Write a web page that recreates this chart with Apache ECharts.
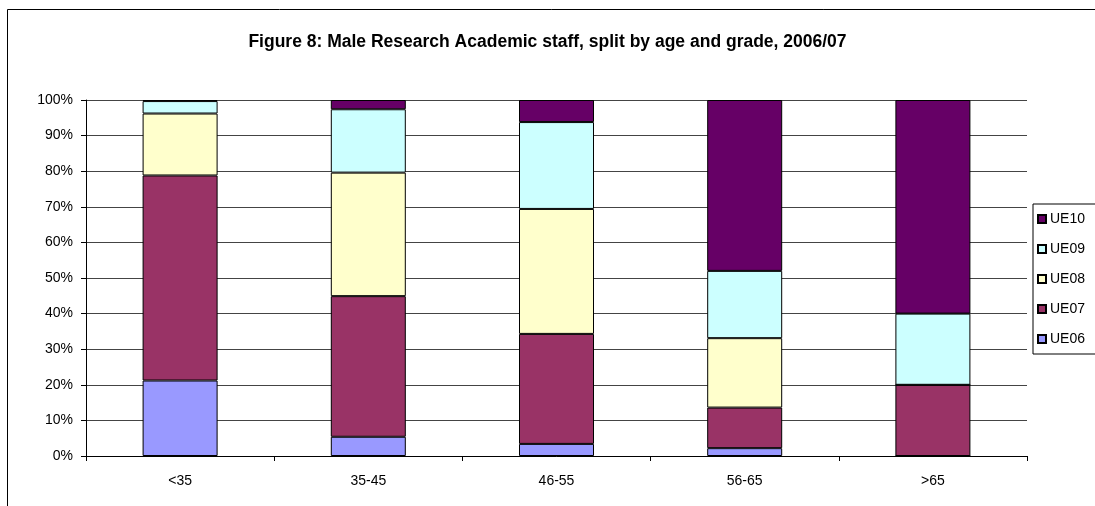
<!DOCTYPE html>
<html>
<head>
<meta charset="utf-8">
<script src="https://cdn.jsdelivr.net/npm/echarts@6/dist/echarts.min.js"></script>
<style>
  html, body { margin: 0; padding: 0; background: #fff; }
  #chart { width: 1095px; height: 506px; }
</style>
</head>
<body>
<div id="chart"></div>
<script>
// age bands
const ageGroups = ['<35', '35-45', '46-55', '56-65', '>65'];

// share of staff by grade (%)
const ue06 = [21.2, 5.4, 3.4, 2.2, 0];
const ue07 = [57.6, 39.5, 30.9, 11.4, 20];
const ue08 = [17.4, 34.7, 35.1, 19.5, 0];
const ue09 = [3.5, 17.8, 24.4, 18.9, 20];
const ue10 = [0.3, 2.6, 6.2, 48.0, 60];

const yTicks = [0, 10, 20, 30, 40, 50, 60, 70, 80, 90, 100];

const font = '"Liberation Sans", Arial, sans-serif';

let myChart = echarts.init(document.getElementById('chart'));

function bar(name, data, color) {
    return {
        name: name,
        type: 'bar',
        stack: 'total',
        barWidth: 75,
        data: data,
        itemStyle: {
            color: color,
            borderColor: '#000',
            borderWidth: 1
        }
    };
}

var option = {
    animation: false,
    backgroundColor: '#fff',
    textStyle: { fontFamily: font, color: '#000' },
    title: {
        text: 'Figure 8: Male Research Academic staff, split by age and grade, 2006/07',
        left: 'center',
        top: 28,
        textStyle: {
            fontFamily: font,
            fontSize: 17.5,
            fontWeight: 'bold',
            color: '#000'
        }
    },
    graphic: [
        {
            type: 'rect',
            shape: { x: 7.5, y: 9.5, width: 1200, height: 600 },
            style: { fill: 'none', stroke: '#000', lineWidth: 1 },
            z: -1
        }
    ],
    legend: {
        data: ['UE10', 'UE09', 'UE08', 'UE07', 'UE06'],
        orient: 'vertical',
        left: 1033,
        top: 204,
        itemWidth: 8,
        itemHeight: 8,
        itemGap: 16,
        padding: [8, 20, 8, 4],
        borderColor: '#000',
        borderWidth: 1,
        icon: 'rect',
        textStyle: { fontFamily: font, fontSize: 14, color: '#000', padding: [0, 0, 0, -1] }
    },
    grid: {
        left: 86,
        right: 68,
        top: 100,
        bottom: 50
    },
    xAxis: {
        type: 'category',
        data: ageGroups,
        axisLine: { lineStyle: { color: '#000' } },
        axisTick: { show: true, length: 5, lineStyle: { color: '#000' } },
        axisLabel: { fontFamily: font, fontSize: 14, color: '#000', margin: 18 }
    },
    yAxis: {
        type: 'value',
        min: yTicks[0],
        max: yTicks[yTicks.length - 1],
        interval: 10,
        axisLine: { show: true, lineStyle: { color: '#000' } },
        axisTick: { show: true, length: 5, lineStyle: { color: '#000' } },
        axisLabel: {
            fontFamily: font,
            fontSize: 14,
            color: '#000',
            margin: 13,
            formatter: '{value}%'
        },
        splitLine: { lineStyle: { color: '#444', width: 1 } }
    },
    series: [
        bar('UE06', ue06, '#9999FF'),
        bar('UE07', ue07, '#993366'),
        bar('UE08', ue08, '#FFFFCC'),
        bar('UE09', ue09, '#CCFFFF'),
        bar('UE10', ue10, '#660066')
    ]
};

myChart.setOption(option);

window.addEventListener('resize', () => {
    myChart.resize();
});
</script>
</body>
</html>
